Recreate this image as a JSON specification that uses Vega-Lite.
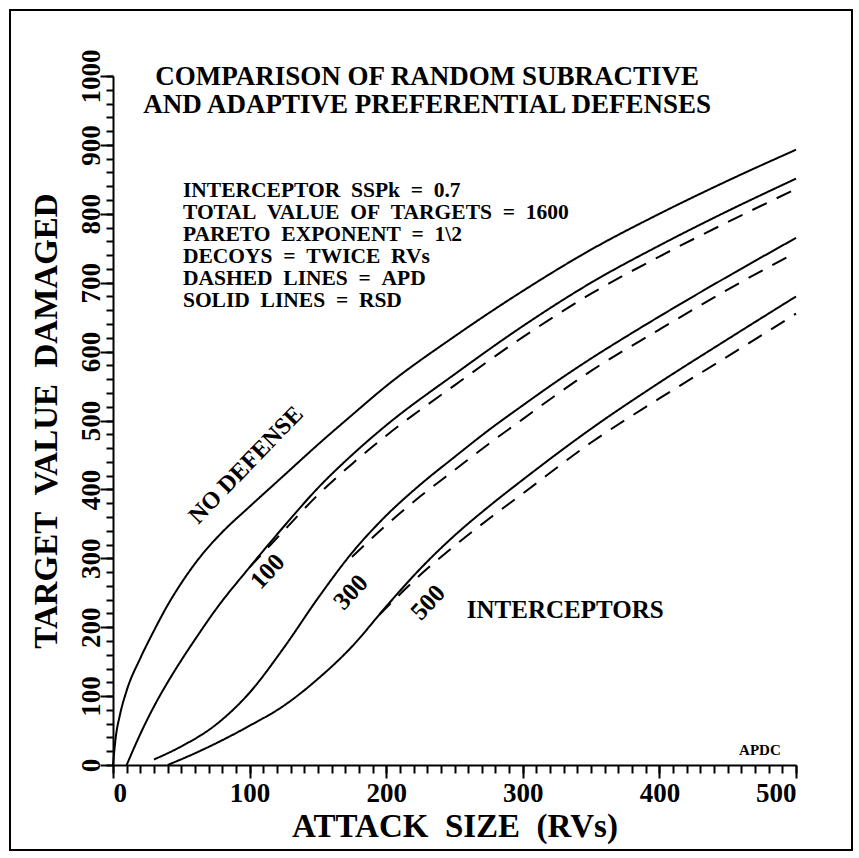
{
  "$schema": "https://vega.github.io/schema/vega-lite/v6.json",
  "width": 842,
  "height": 840,
  "autosize": {"type": "none"},
  "padding": {"left": 10, "top": 10, "right": 7, "bottom": 8},
  "background": "white",
  "config": {
    "view": {"stroke": "black", "strokeWidth": 2},
    "font": "Liberation Serif",
    "axis": {
      "labelFont": "Liberation Serif", "labelFontWeight": "bold", "labelColor": "black",
      "titleFont": "Liberation Serif", "titleFontWeight": "bold", "titleColor": "black",
      "domainColor": "black", "tickColor": "black", "grid": false,
      "domainWidth": 2, "tickWidth": 2, "labelOverlap": false
    },
    "text": {"font": "Liberation Serif", "fontWeight": "bold", "color": "black"}
  },
  "datasets": {
    "curves": [
      {"interceptors": 0, "defense": "None", "x": 0, "y": 0},
      {"interceptors": 0, "defense": "None", "x": 2, "y": 40},
      {"interceptors": 0, "defense": "None", "x": 5, "y": 72},
      {"interceptors": 0, "defense": "None", "x": 10, "y": 108},
      {"interceptors": 0, "defense": "None", "x": 20, "y": 155},
      {"interceptors": 0, "defense": "None", "x": 30, "y": 195},
      {"interceptors": 0, "defense": "None", "x": 40, "y": 232},
      {"interceptors": 0, "defense": "None", "x": 50, "y": 264},
      {"interceptors": 0, "defense": "None", "x": 65, "y": 305},
      {"interceptors": 0, "defense": "None", "x": 80, "y": 338},
      {"interceptors": 0, "defense": "None", "x": 100, "y": 375},
      {"interceptors": 0, "defense": "None", "x": 125, "y": 420},
      {"interceptors": 0, "defense": "None", "x": 150, "y": 465},
      {"interceptors": 0, "defense": "None", "x": 175, "y": 508},
      {"interceptors": 0, "defense": "None", "x": 200, "y": 550},
      {"interceptors": 0, "defense": "None", "x": 250, "y": 622},
      {"interceptors": 0, "defense": "None", "x": 300, "y": 688},
      {"interceptors": 0, "defense": "None", "x": 350, "y": 748},
      {"interceptors": 0, "defense": "None", "x": 400, "y": 800},
      {"interceptors": 0, "defense": "None", "x": 450, "y": 848},
      {"interceptors": 0, "defense": "None", "x": 500, "y": 893},

      {"interceptors": 100, "defense": "RSD", "x": 10, "y": 0},
      {"interceptors": 100, "defense": "RSD", "x": 20, "y": 45},
      {"interceptors": 100, "defense": "RSD", "x": 30, "y": 85},
      {"interceptors": 100, "defense": "RSD", "x": 40, "y": 120},
      {"interceptors": 100, "defense": "RSD", "x": 50, "y": 152},
      {"interceptors": 100, "defense": "RSD", "x": 60, "y": 182},
      {"interceptors": 100, "defense": "RSD", "x": 75, "y": 225},
      {"interceptors": 100, "defense": "RSD", "x": 100, "y": 287},
      {"interceptors": 100, "defense": "RSD", "x": 125, "y": 346},
      {"interceptors": 100, "defense": "RSD", "x": 150, "y": 402},
      {"interceptors": 100, "defense": "RSD", "x": 175, "y": 450},
      {"interceptors": 100, "defense": "RSD", "x": 200, "y": 493},
      {"interceptors": 100, "defense": "RSD", "x": 250, "y": 567},
      {"interceptors": 100, "defense": "RSD", "x": 300, "y": 637},
      {"interceptors": 100, "defense": "RSD", "x": 350, "y": 700},
      {"interceptors": 100, "defense": "RSD", "x": 400, "y": 754},
      {"interceptors": 100, "defense": "RSD", "x": 450, "y": 804},
      {"interceptors": 100, "defense": "RSD", "x": 500, "y": 851},

      {"interceptors": 100, "defense": "APD", "x": 100, "y": 287},
      {"interceptors": 100, "defense": "APD", "x": 125, "y": 340},
      {"interceptors": 100, "defense": "APD", "x": 150, "y": 392},
      {"interceptors": 100, "defense": "APD", "x": 175, "y": 437},
      {"interceptors": 100, "defense": "APD", "x": 200, "y": 478},
      {"interceptors": 100, "defense": "APD", "x": 250, "y": 551},
      {"interceptors": 100, "defense": "APD", "x": 300, "y": 621},
      {"interceptors": 100, "defense": "APD", "x": 350, "y": 684},
      {"interceptors": 100, "defense": "APD", "x": 400, "y": 738},
      {"interceptors": 100, "defense": "APD", "x": 450, "y": 788},
      {"interceptors": 100, "defense": "APD", "x": 500, "y": 836},

      {"interceptors": 300, "defense": "RSD", "x": 30, "y": 8},
      {"interceptors": 300, "defense": "RSD", "x": 50, "y": 27},
      {"interceptors": 300, "defense": "RSD", "x": 75, "y": 58},
      {"interceptors": 300, "defense": "RSD", "x": 100, "y": 105},
      {"interceptors": 300, "defense": "RSD", "x": 125, "y": 170},
      {"interceptors": 300, "defense": "RSD", "x": 150, "y": 242},
      {"interceptors": 300, "defense": "RSD", "x": 175, "y": 308},
      {"interceptors": 300, "defense": "RSD", "x": 200, "y": 362},
      {"interceptors": 300, "defense": "RSD", "x": 225, "y": 407},
      {"interceptors": 300, "defense": "RSD", "x": 250, "y": 447},
      {"interceptors": 300, "defense": "RSD", "x": 275, "y": 486},
      {"interceptors": 300, "defense": "RSD", "x": 300, "y": 522},
      {"interceptors": 300, "defense": "RSD", "x": 325, "y": 557},
      {"interceptors": 300, "defense": "RSD", "x": 350, "y": 590},
      {"interceptors": 300, "defense": "RSD", "x": 375, "y": 621},
      {"interceptors": 300, "defense": "RSD", "x": 400, "y": 651},
      {"interceptors": 300, "defense": "RSD", "x": 450, "y": 709},
      {"interceptors": 300, "defense": "RSD", "x": 500, "y": 765},

      {"interceptors": 300, "defense": "APD", "x": 175, "y": 302},
      {"interceptors": 300, "defense": "APD", "x": 200, "y": 348},
      {"interceptors": 300, "defense": "APD", "x": 225, "y": 390},
      {"interceptors": 300, "defense": "APD", "x": 250, "y": 428},
      {"interceptors": 300, "defense": "APD", "x": 275, "y": 466},
      {"interceptors": 300, "defense": "APD", "x": 300, "y": 502},
      {"interceptors": 300, "defense": "APD", "x": 325, "y": 538},
      {"interceptors": 300, "defense": "APD", "x": 350, "y": 572},
      {"interceptors": 300, "defense": "APD", "x": 400, "y": 632},
      {"interceptors": 300, "defense": "APD", "x": 450, "y": 690},
      {"interceptors": 300, "defense": "APD", "x": 500, "y": 744},

      {"interceptors": 500, "defense": "RSD", "x": 40, "y": 0},
      {"interceptors": 500, "defense": "RSD", "x": 60, "y": 17},
      {"interceptors": 500, "defense": "RSD", "x": 80, "y": 36},
      {"interceptors": 500, "defense": "RSD", "x": 100, "y": 57},
      {"interceptors": 500, "defense": "RSD", "x": 125, "y": 86},
      {"interceptors": 500, "defense": "RSD", "x": 150, "y": 125},
      {"interceptors": 500, "defense": "RSD", "x": 175, "y": 172},
      {"interceptors": 500, "defense": "RSD", "x": 200, "y": 230},
      {"interceptors": 500, "defense": "RSD", "x": 225, "y": 285},
      {"interceptors": 500, "defense": "RSD", "x": 250, "y": 333},
      {"interceptors": 500, "defense": "RSD", "x": 275, "y": 375},
      {"interceptors": 500, "defense": "RSD", "x": 300, "y": 414},
      {"interceptors": 500, "defense": "RSD", "x": 350, "y": 488},
      {"interceptors": 500, "defense": "RSD", "x": 400, "y": 555},
      {"interceptors": 500, "defense": "RSD", "x": 450, "y": 618},
      {"interceptors": 500, "defense": "RSD", "x": 500, "y": 680},

      {"interceptors": 500, "defense": "APD", "x": 195, "y": 218},
      {"interceptors": 500, "defense": "APD", "x": 225, "y": 276},
      {"interceptors": 500, "defense": "APD", "x": 250, "y": 318},
      {"interceptors": 500, "defense": "APD", "x": 275, "y": 357},
      {"interceptors": 500, "defense": "APD", "x": 300, "y": 394},
      {"interceptors": 500, "defense": "APD", "x": 350, "y": 468},
      {"interceptors": 500, "defense": "APD", "x": 400, "y": 532},
      {"interceptors": 500, "defense": "APD", "x": 450, "y": 593},
      {"interceptors": 500, "defense": "APD", "x": 500, "y": 655}
    ]
  },
  "layer": [
    {
      "data": {"name": "curves"},
      "mark": {"type": "line", "interpolate": "monotone", "color": "black", "strokeWidth": 2},
      "encoding": {
        "x": {
          "field": "x", "type": "quantitative",
          "scale": {"domain": [0, 500], "range": [103, 786], "nice": false, "zero": false},
          "axis": {
            "orient": "bottom",
            "values": [0, 100, 200, 300, 400, 500],
            "tickSize": 13, "labelFontSize": 27, "labelPadding": 2,
            "labelBaseline": "top", "format": "d",
            "title": "ATTACK\u00a0\u00a0SIZE\u00a0\u00a0(RVs)", "titleFontSize": 33, "titlePadding": 4,
            "offset": -85
          }
        },
        "y": {
          "field": "y", "type": "quantitative",
          "scale": {"domain": [0, 1000], "range": [755, 66], "nice": false, "zero": false},
          "axis": {
            "orient": "left",
            "values": [0, 100, 200, 300, 400, 500, 600, 700, 800, 900, 1000],
            "tickSize": 13, "labelFontSize": 27, "labelPadding": 1, "format": "d",
            "labelAngle": -90, "labelAlign": "center", "labelBaseline": "alphabetic",
            "title": "TARGET\u00a0\u00a0VALUE\u00a0\u00a0DAMAGED", "titleFontSize": 33, "titlePadding": 14,
            "offset": -103
          }
        },
        "detail": [{"field": "interceptors"}, {"field": "defense"}],
        "strokeDash": {
          "field": "defense", "type": "nominal",
          "scale": {"domain": ["None", "RSD", "APD"], "range": [[1, 0], [1, 0], [16, 11]]},
          "legend": null
        }
      }
    },
    {
      "data": {"name": "curves"},
      "mark": {"type": "point", "opacity": 0},
      "encoding": {
        "x": {
          "field": "x", "type": "quantitative",
          "axis": {
            "orient": "top",
            "values": [0,10,20,30,40,50,60,70,80,90,100,110,120,130,140,150,160,170,180,190,200,210,220,230,240,250,260,270,280,290,300,310,320,330,340,350,360,370,380,390,400,410,420,430,440,450,460,470,480,490,500],
            "tickSize": 8, "labels": false, "domain": false, "title": null, "offset": -763
          }
        },
        "y": {
          "field": "y", "type": "quantitative",
          "axis": {
            "orient": "right",
            "values": [0,20,40,60,80,100,120,140,160,180,200,220,240,260,280,300,320,340,360,380,400,420,440,460,480,500,520,540,560,580,600,620,640,660,680,700,720,740,760,780,800,820,840,860,880,900,920,940,960,980,1000],
            "tickSize": 7, "labels": false, "domain": false, "title": null, "offset": -746
          }
        }
      }
    },
    {
      "data": {"values": [{"label": ["COMPARISON OF RANDOM SUBRACTIVE", "AND ADAPTIVE PREFERENTIAL DEFENSES"]}]},
      "mark": {"type": "text", "fontSize": 27, "lineHeight": 28, "align": "center", "baseline": "alphabetic"},
      "encoding": {
        "x": {"datum": 230, "type": "quantitative", "axis": null},
        "y": {"datum": 987, "type": "quantitative", "axis": null},
        "text": {"field": "label"}
      }
    },
    {
      "data": {"values": [{"label": ["INTERCEPTOR\u00a0\u00a0SSPk\u00a0\u00a0=\u00a0\u00a00.7", "TOTAL\u00a0\u00a0VALUE\u00a0\u00a0OF\u00a0\u00a0TARGETS\u00a0\u00a0=\u00a0\u00a01600", "PARETO\u00a0\u00a0EXPONENT\u00a0\u00a0=\u00a0\u00a01\\2", "DECOYS\u00a0\u00a0=\u00a0\u00a0TWICE\u00a0\u00a0RVs", "DASHED\u00a0\u00a0LINES\u00a0\u00a0=\u00a0\u00a0APD", "SOLID\u00a0\u00a0LINES\u00a0\u00a0=\u00a0\u00a0RSD"]}]},
      "mark": {"type": "text", "fontSize": 21.5, "lineHeight": 22, "align": "left", "baseline": "alphabetic"},
      "encoding": {
        "x": {"datum": 51.2, "type": "quantitative", "axis": null},
        "y": {"datum": 824, "type": "quantitative", "axis": null},
        "text": {"field": "label"}
      }
    },
    {
      "data": {"values": [{"label": "NO DEFENSE"}]},
      "mark": {"type": "text", "fontSize": 24, "angle": -46, "align": "center", "baseline": "middle"},
      "encoding": {
        "x": {"datum": 97.5, "type": "quantitative", "axis": null},
        "y": {"datum": 435, "type": "quantitative", "axis": null},
        "text": {"field": "label"}
      }
    },
    {
      "data": {"values": [{"label": "100"}]},
      "mark": {"type": "text", "fontSize": 25, "angle": -47, "align": "center", "baseline": "middle"},
      "encoding": {
        "x": {"datum": 113, "type": "quantitative", "axis": null},
        "y": {"datum": 281, "type": "quantitative", "axis": null},
        "text": {"field": "label"}
      }
    },
    {
      "data": {"values": [{"label": "300"}]},
      "mark": {"type": "text", "fontSize": 25, "angle": -47, "align": "center", "baseline": "middle"},
      "encoding": {
        "x": {"datum": 174, "type": "quantitative", "axis": null},
        "y": {"datum": 251, "type": "quantitative", "axis": null},
        "text": {"field": "label"}
      }
    },
    {
      "data": {"values": [{"label": "500"}]},
      "mark": {"type": "text", "fontSize": 25, "angle": -47, "align": "center", "baseline": "middle"},
      "encoding": {
        "x": {"datum": 230.5, "type": "quantitative", "axis": null},
        "y": {"datum": 236, "type": "quantitative", "axis": null},
        "text": {"field": "label"}
      }
    },
    {
      "data": {"values": [{"label": "INTERCEPTORS"}]},
      "mark": {"type": "text", "fontSize": 25, "align": "left", "baseline": "alphabetic"},
      "encoding": {
        "x": {"datum": 259, "type": "quantitative", "axis": null},
        "y": {"datum": 213, "type": "quantitative", "axis": null},
        "text": {"field": "label"}
      }
    },
    {
      "data": {"values": [{"label": "APDC"}]},
      "mark": {"type": "text", "fontSize": 15, "align": "center", "baseline": "alphabetic"},
      "encoding": {
        "x": {"datum": 473.6, "type": "quantitative", "axis": null},
        "y": {"datum": 14.5, "type": "quantitative", "axis": null},
        "text": {"field": "label"}
      }
    }
  ],
  "resolve": {"axis": {"x": "independent", "y": "independent"}}
}
